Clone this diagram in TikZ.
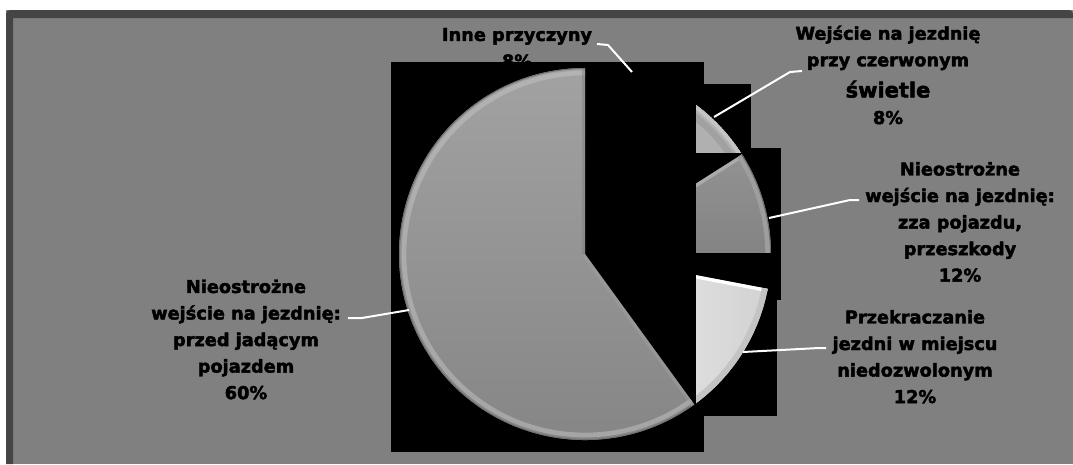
\documentclass[tikz,border=0pt]{standalone}
\usepackage{fontspec}
\setmainfont{DejaVu Sans}[BoldFeatures={FakeBold=2.4}]
\usetikzlibrary{positioning}

\tikzset{every picture/.style={line width=0.75pt}}
\tikzset{
  lbl/.style={font=\bfseries\fontsize{13.3}{19.9}\selectfont, align=center, inner sep=0pt, text=black, anchor=north},
  leader/.style={draw=white, line width=1.5pt},
  slicebox/.style={fill=black, draw=none},
}

\begin{document}
\begin{tikzpicture}[x=0.75pt,y=0.75pt,yscale=-1,xscale=1]
\useasboundingbox (0,0) rectangle (1073,464);

%Shape: Rectangle [background]
\fill[white] (0,0) rectangle (1073,464);
%Shape: Rectangle [frame]
\fill[fill={rgb, 255:red, 128; green, 128; blue, 128 }] (6,10) rectangle (1073,464);
\fill[rounded corners=3pt, fill={rgb, 255:red, 69; green, 69; blue, 69 }] (6,464) -- (6,10) -- (1073,10) [sharp corners] -- (1073,18) -- (13,18) -- (13,464) -- cycle;

% Text Node
\node[lbl] (inneLbl) at (517,27.5) {Inne przyczyny\\8\%};

%Shape: Rectangle [boxes]
\path[slicebox] (391,62) rectangle (704,452);
\path[slicebox] (696,84) rectangle (751,150);
\path[slicebox] (696,148) rectangle (781,300);
\path[slicebox] (696,300) rectangle (777,416);

%Shape: Pie slice [czerwonym]
\begin{scope}
\clip (696,84) rectangle (751,152);
\fill[fill={rgb, 255:red, 176; green, 176; blue, 176 }] (585,254) -- ++(-61.2:186) arc[start angle=-61.2, end angle=-32.4, radius=186] -- cycle;
\clip (585,254) -- ++(-61.2:186) arc[start angle=-61.2, end angle=-32.4, radius=186] -- cycle;
\draw[line width=5pt, color={rgb, 255:red, 156; green, 156; blue, 156 }, opacity=0.7] (585,254) ++(-61.2:176) arc[start angle=-61.2, end angle=-32.4, radius=176];
\draw[line width=3pt, color={rgb, 255:red, 196; green, 196; blue, 196 }] (585,254) ++(-61.2:184) arc[start angle=-61.2, end angle=-32.4, radius=184];
\end{scope}

%Shape: Pie slice [zza pojazdu]
\begin{scope}
\clip (696,152) rectangle (781,252);
\shade[top color={rgb, 255:red, 146; green, 146; blue, 146 }, bottom color={rgb, 255:red, 126; green, 126; blue, 126 }] (585,254) -- ++(-32.4:186) arc[start angle=-32.4, end angle=10.8, radius=186] -- cycle;
\clip (585,254) -- ++(-32.4:186) arc[start angle=-32.4, end angle=10.8, radius=186] -- cycle;
\draw[line width=5pt, color={rgb, 255:red, 178; green, 178; blue, 178 }, opacity=0.8] (585,254) -- ++(-32.4:186);
\draw[line width=4pt, color={rgb, 255:red, 158; green, 158; blue, 158 }] (585,254) ++(-32.4:183) arc[start angle=-32.4, end angle=10.8, radius=183];
\draw[line width=1.5pt, color={rgb, 255:red, 110; green, 110; blue, 110 }] (585,254) ++(-32.4:186) arc[start angle=-32.4, end angle=10.8, radius=186];
\end{scope}

%Shape: Pie slice [przekraczanie]
\begin{scope}
\clip (696,260) rectangle (777,416);
\shade[left color={rgb, 255:red, 238; green, 238; blue, 238 }, right color={rgb, 255:red, 210; green, 210; blue, 210 }] (585,254) -- ++(10.8:186) arc[start angle=10.8, end angle=54, radius=186] -- cycle;
\clip (585,254) -- ++(10.8:186) arc[start angle=10.8, end angle=54, radius=186] -- cycle;
\draw[line width=5pt, color=white] (585,254) -- ++(10.8:186);
\draw[line width=6pt, color={rgb, 255:red, 196; green, 196; blue, 196 }] (585,254) ++(10.8:184) arc[start angle=10.8, end angle=54, radius=184];
\end{scope}

%Shape: Pie slice [60]
\shade[top color={rgb, 255:red, 162; green, 162; blue, 162 }, bottom color={rgb, 255:red, 132; green, 132; blue, 132 }] (585,254) -- ++(54:186) arc[start angle=54, end angle=270, radius=186] -- cycle;
\begin{scope}
\clip (585,254) -- ++(54:186) arc[start angle=54, end angle=270, radius=186] -- cycle;
\draw[line width=3.5pt, color={rgb, 255:red, 196; green, 196; blue, 196 }, opacity=0.5] (585,254) ++(54:181) arc[start angle=54, end angle=270, radius=181];
\draw[line width=1.5pt, color={rgb, 255:red, 112; green, 112; blue, 112 }] (585,254) ++(54:186) arc[start angle=54, end angle=270, radius=186];
\draw[line width=4pt, color={rgb, 255:red, 120; green, 120; blue, 120 }, opacity=0.4] (585,254) -- ++(270:186);
\draw[line width=5pt, color={rgb, 255:red, 160; green, 160; blue, 160 }, opacity=0.5] (585,254) -- ++(54:186);
\end{scope}

% Text Node
\node[lbl] (czLbl) at (888,25) {Wejście na jezdnię\\przy czerwonym\\[3.5pt]{\fontsize{15.7}{19.9}\selectfont świetle}\\8\%};
% Text Node
\node[lbl] (zzaLbl) at (960,161.5) {Nieostrożne\\wejście na jezdnię:\\zza pojazdu,\\przeszkody\\12\%};
% Text Node
\node[lbl] (przLbl) at (915,309.5) {Przekraczanie\\jezdni w miejscu\\niedozwolonym\\12\%};
% Text Node
\node[lbl] (bigLbl) at (246,279) {Nieostrożne\\wejście na jezdnię:\\przed jadącym\\pojazdem\\60\%};

%Straight Lines [leaders]
\coordinate (inneA) at (597,44);
\coordinate (inneB) at (608,45);
\coordinate (inneC) at (632,72);
\draw[leader] (inneA) -- (inneB) -- (inneC);
\coordinate (czA) at (802,71);
\coordinate (czB) at (790,72);
\coordinate (czC) at (714,117);
\draw[leader] (czA) -- (czB) -- (czC);
\coordinate (zzaA) at (859,200);
\coordinate (zzaB) at (850,200);
\coordinate (zzaC) at (769,218);
\draw[leader] (zzaA) -- (zzaB) -- (zzaC);
\coordinate (przA) at (826,348);
\coordinate (przB) at (819,348);
\coordinate (przC) at (743,352);
\draw[leader] (przA) -- (przB) -- (przC);
\coordinate (bigA) at (348,318);
\coordinate (bigB) at (362,318);
\coordinate (bigC) at (409,310);
\draw[leader] (bigA) -- (bigB) -- (bigC);

\end{tikzpicture}
\end{document}
